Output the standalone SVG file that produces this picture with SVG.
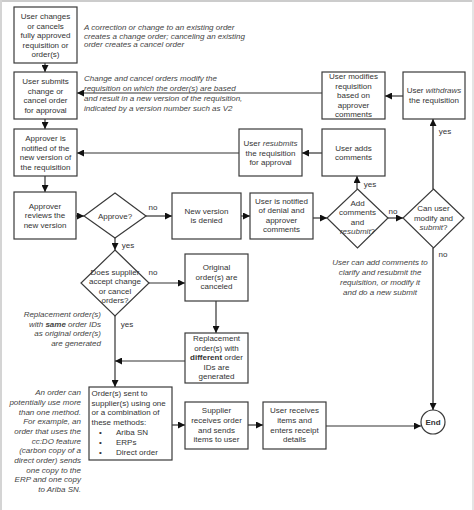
<svg xmlns="http://www.w3.org/2000/svg" width="474" height="510" viewBox="0 0 474 510">
<style>
.bx{fill:#fff;stroke:#3a3a3a;stroke-width:1.2}
.t{font-family:"Liberation Sans",Arial,sans-serif;font-size:8px;fill:#333;text-anchor:middle}
.tl{text-anchor:start}
.tr{text-anchor:end}
.i{font-style:italic;fill:#444}
.c{fill:none;stroke:#333;stroke-width:1.2}
.g{fill:none;stroke:#666;stroke-width:1.8}
.b{font-weight:bold}
</style>
<defs>
<marker id="a" markerWidth="7" markerHeight="7" refX="7" refY="3.5" orient="auto" markerUnits="userSpaceOnUse">
<path d="M0,0 L7,3.5 L0,7 Z" fill="#111"/>
</marker>
</defs>
<rect width="474" height="510" fill="#fff"/>
<rect x="0" y="0" width="474" height="2" fill="#ccc"/>
<rect x="0" y="0" width="2" height="510" fill="#d4d4d4"/>
<rect x="472" y="0" width="2" height="510" fill="#e4e4e4"/>

<g id="connectors">
<line class="c" x1="45" y1="63" x2="45" y2="72" marker-end="url(#a)"/>
<line class="c" x1="45" y1="119" x2="45" y2="129" marker-end="url(#a)"/>
<line class="c" x1="45" y1="176" x2="45" y2="192" marker-end="url(#a)"/>
<line class="c" x1="76" y1="216" x2="84" y2="216" marker-end="url(#a)"/>
<line class="c" x1="146" y1="216" x2="172" y2="216" marker-end="url(#a)"/>
<line class="c" x1="241" y1="216" x2="250" y2="216" marker-end="url(#a)"/>
<line class="c" x1="313" y1="218" x2="327" y2="218" marker-end="url(#a)"/>
<line class="c" x1="388" y1="218" x2="403" y2="218" marker-end="url(#a)"/>
<line class="g" x1="433" y1="189" x2="433" y2="119" marker-end="url(#a)"/>
<line class="c" x1="403" y1="96" x2="385" y2="96" marker-end="url(#a)"/>
<line class="c" x1="322" y1="93" x2="77" y2="93" marker-end="url(#a)"/>
<line class="c" x1="357" y1="189" x2="357" y2="176" marker-end="url(#a)"/>
<line class="c" x1="322" y1="153" x2="302" y2="153" marker-end="url(#a)"/>
<line class="c" x1="239" y1="153" x2="77" y2="153" marker-end="url(#a)"/>
<line class="c" x1="115" y1="238" x2="115" y2="250" marker-end="url(#a)"/>
<line class="c" x1="149" y1="283" x2="185" y2="283" marker-end="url(#a)"/>
<line class="c" x1="216" y1="301" x2="216" y2="333" marker-end="url(#a)"/>
<line class="c" x1="115" y1="316" x2="115" y2="387" marker-end="url(#a)"/>
<line class="c" x1="185" y1="361" x2="115" y2="361" marker-end="url(#a)"/>
<line class="c" x1="172" y1="425" x2="185" y2="425" marker-end="url(#a)"/>
<line class="c" x1="248" y1="425" x2="263" y2="425" marker-end="url(#a)"/>
<line class="c" x1="326" y1="426" x2="421" y2="426" marker-end="url(#a)"/>
<line class="g" x1="433" y1="248" x2="433" y2="410" marker-end="url(#a)"/>
<text class="t" x="153" y="210">no</text>
<text class="t" x="153" y="275">no</text>
<text class="t" x="393" y="214">no</text>
<text class="t" x="443" y="257">no</text>
<text class="t" x="128" y="248">yes</text>
<text class="t" x="127" y="327">yes</text>
<text class="t" x="445" y="134">yes</text>
<text class="t" x="370" y="187">yes</text>
</g>

<g id="n1"><rect class="bx" x="14" y="7" width="63" height="56"/>
<text class="t" x="45.5" y="19">User changes</text><text class="t" x="45.5" y="28.5">or cancels</text><text class="t" x="45.5" y="38">fully approved</text><text class="t" x="45.5" y="47.5">requisition or</text><text class="t" x="45.5" y="57">order(s)</text></g>

<g id="note1"><text class="t tl i" x="84" y="30">A correction or change to an existing order</text><text class="t tl i" x="84" y="38.5">creates a change order; canceling an existing</text><text class="t tl i" x="84" y="47">order creates a cancel order</text></g>

<g id="n2"><rect class="bx" x="14" y="72" width="63" height="47"/>
<text class="t" x="45.5" y="84">User submits</text><text class="t" x="45.5" y="93.5">change or</text><text class="t" x="45.5" y="103">cancel order</text><text class="t" x="45.5" y="112.5">for approval</text></g>

<g id="note2"><text class="t tl i" x="84" y="81">Change and cancel orders modify the</text><text class="t tl i" x="84" y="91">requisition on which the order(s) are based</text><text class="t tl i" x="84" y="101">and result in a new version of the requisition,</text><text class="t tl i" x="84" y="111">indicated by a version number such as V2</text></g>

<g id="n3"><rect class="bx" x="14" y="129" width="63" height="47"/>
<text class="t" x="45.5" y="141">Approver is</text><text class="t" x="45.5" y="150.5">notified of the</text><text class="t" x="45.5" y="160">new version of</text><text class="t" x="45.5" y="169.5">the requisition</text></g>

<g id="n4"><rect class="bx" x="14" y="192" width="62" height="47"/>
<text class="t" x="45" y="208.5">Approver</text><text class="t" x="45" y="218">reviews the</text><text class="t" x="45" y="227.5">new version</text></g>

<g id="d1"><polygon class="bx" points="115,193 146,216 115,238 84,216"/>
<text class="t" x="115" y="219">Approve?</text></g>

<g id="n5"><rect class="bx" x="172" y="193" width="69" height="46"/>
<text class="t" x="206.5" y="213.5">New version</text><text class="t" x="206.5" y="223">is denied</text></g>

<g id="n6"><rect class="bx" x="250" y="193" width="63" height="46"/>
<text class="t" x="281.5" y="203.5">User is notified</text><text class="t" x="281.5" y="213">of denial and</text><text class="t" x="281.5" y="222.5">approver</text><text class="t" x="281.5" y="232">comments</text></g>

<g id="d2"><polygon class="bx" points="357.5,189 388,218 357.5,248 327,218"/>
<text class="t" x="357.5" y="205.5">Add</text><text class="t" x="357.5" y="215">comments</text><text class="t" x="357.5" y="224.5">and</text><text class="t" x="357.5" y="234"><tspan class="i">resubmit</tspan>?</text></g>

<g id="d3"><polygon class="bx" points="433.5,189 464,218 433.5,248 403,218"/>
<text class="t" x="433.5" y="211">Can user</text><text class="t" x="433.5" y="220.5">modify and</text><text class="t" x="433.5" y="230"><tspan class="i">submit</tspan>?</text></g>

<g id="note3"><text class="t i" x="380" y="265">User can add comments to</text><text class="t i" x="380" y="275">clarify and resubmit the</text><text class="t i" x="380" y="284.5">requisition, or modify it</text><text class="t i" x="380" y="294.5">and do a new submit</text></g>

<g id="n7"><rect class="bx" x="403" y="72" width="62" height="47"/>
<text class="t" x="434" y="93">User <tspan class="i">withdraws</tspan></text><text class="t" x="434" y="102.5">the requisition</text></g>

<g id="n8"><rect class="bx" x="322" y="72" width="63" height="47"/>
<text class="t" x="353.5" y="79">User modifies</text><text class="t" x="353.5" y="88.5">requisition</text><text class="t" x="353.5" y="98">based on</text><text class="t" x="353.5" y="107.5">approver</text><text class="t" x="353.5" y="117">comments</text></g>

<g id="n9"><rect class="bx" x="239" y="129" width="63" height="47"/>
<text class="t" x="270.5" y="146">User <tspan class="i">resubmits</tspan></text><text class="t" x="270.5" y="155.5">the requisition</text><text class="t" x="270.5" y="165">for approval</text></g>

<g id="n10"><rect class="bx" x="322" y="129" width="63" height="47"/>
<text class="t" x="353.5" y="150.5">User adds</text><text class="t" x="353.5" y="160">comments</text></g>

<g id="d4"><polygon class="bx" points="115,250 149,283 115,316 81,283"/>
<text class="t" x="115" y="274.5">Does supplier</text><text class="t" x="115" y="284">accept change</text><text class="t" x="115" y="293.5">or cancel</text><text class="t" x="115" y="303">orders?</text></g>

<g id="note4"><text class="t tr i" x="101" y="317">Replacement order(s)</text><text class="t tr i" x="101" y="326.5">with <tspan class="b">same</tspan> order IDs</text><text class="t tr i" x="101" y="336">as original order(s)</text><text class="t tr i" x="101" y="346">are generated</text></g>

<g id="n11"><rect class="bx" x="185" y="254" width="63" height="47"/>
<text class="t" x="216.5" y="270">Original</text><text class="t" x="216.5" y="279.5">order(s) are</text><text class="t" x="216.5" y="289">canceled</text></g>

<g id="n12"><rect class="bx" x="185" y="333" width="63" height="50"/>
<text class="t" x="216.5" y="341">Replacement</text><text class="t" x="216.5" y="350.5">order(s) with</text><text class="t" x="216.5" y="360"><tspan class="b">different</tspan> order</text><text class="t" x="216.5" y="369.5">IDs are</text><text class="t" x="216.5" y="379">generated</text></g>

<g id="n13"><rect class="bx" x="89" y="387" width="83" height="73"/>
<text class="t tl" x="91.5" y="396">Order(s) sent to</text><text class="t tl" x="91.5" y="405.5">supplier(s) using one</text><text class="t tl" x="91.5" y="415">or a combination of</text><text class="t tl" x="91.5" y="425">these methods:</text>
<text class="t tl" x="99" y="435">•</text><text class="t tl" x="116" y="435">Ariba SN</text>
<text class="t tl" x="99" y="445">•</text><text class="t tl" x="116" y="445">ERPs</text>
<text class="t tl" x="99" y="455">•</text><text class="t tl" x="116" y="455">Direct order</text></g>

<g id="note5"><text class="t tr i" x="81" y="395">An order can</text><text class="t tr i" x="81" y="405">potentially use more</text><text class="t tr i" x="81" y="414.5">than one method.</text><text class="t tr i" x="81" y="424">For example, an</text><text class="t tr i" x="81" y="434">order that uses the</text><text class="t tr i" x="81" y="443.5">cc:DO feature</text><text class="t tr i" x="81" y="453">(carbon copy of a</text><text class="t tr i" x="81" y="463">direct order) sends</text><text class="t tr i" x="81" y="472.5">one copy to the</text><text class="t tr i" x="81" y="482">ERP and one copy</text><text class="t tr i" x="81" y="492">to Ariba SN.</text></g>

<g id="n14"><rect class="bx" x="185" y="402" width="63" height="47"/>
<text class="t" x="216.5" y="413">Supplier</text><text class="t" x="216.5" y="422.5">receives order</text><text class="t" x="216.5" y="432.5">and sends</text><text class="t" x="216.5" y="442">items to user</text></g>

<g id="n15"><rect class="bx" x="263" y="402" width="63" height="47"/>
<text class="t" x="294.5" y="413">User receives</text><text class="t" x="294.5" y="422.5">items and</text><text class="t" x="294.5" y="432.5">enters receipt</text><text class="t" x="294.5" y="442">details</text></g>

<g id="end"><circle class="bx" cx="433" cy="422" r="12"/>
<text class="t b" x="433" y="425">End</text></g>
</svg>
